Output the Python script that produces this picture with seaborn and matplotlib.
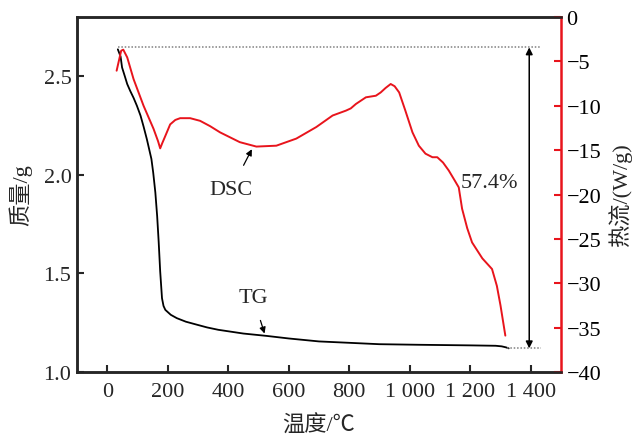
import numpy as np
import pandas as pd
import matplotlib
matplotlib.use("Agg")
import matplotlib.pyplot as plt
import seaborn as sns

sns.set_style("ticks")
plt.rcParams['font.family'] = ['Liberation Serif', 'Noto Sans CJK SC', 'DejaVu Sans']
plt.rcParams['axes.unicode_minus'] = True

# ---- data ----
t_tg = [35, 44, 49, 58, 66, 76, 87, 98, 110, 120, 131, 140, 146, 152, 159, 165, 170, 175, 181, 186,
        192, 210, 230, 260, 296, 330, 367, 450, 527, 600, 700, 800, 899, 1031, 1200, 1284, 1304,
        1318, 1327]
m_tg = [2.636, 2.60, 2.544, 2.50, 2.46, 2.425, 2.39, 2.35, 2.30, 2.245, 2.18, 2.12, 2.08, 2.01,
        1.91, 1.79, 1.66, 1.51, 1.374, 1.335, 1.315, 1.29, 1.273, 1.255, 1.24, 1.226, 1.214, 1.195,
        1.183, 1.17, 1.155, 1.148, 1.141, 1.138, 1.135, 1.133, 1.13, 1.125, 1.12]

t_dsc = [31, 46, 53, 66, 87, 120, 153, 168, 175, 182, 192, 208, 225, 241, 274, 307, 340, 373,
         438, 493, 559, 625, 691, 745, 789, 805, 822, 855, 888, 904, 920, 937, 950, 965, 985,
         1009, 1030, 1052, 1075, 1091, 1110, 1129, 1150, 1162, 1173, 1190, 1206, 1240, 1272,
         1288, 1300, 1316]
h_dsc = [-6.05, -3.8, -3.68, -4.55, -7.0, -10.0, -12.6, -14.0, -14.8, -14.2, -13.4, -12.1, -11.6,
         -11.4, -11.4, -11.7, -12.3, -13.0, -14.1, -14.6, -14.5, -13.7, -12.4, -11.1, -10.55,
         -10.3, -9.8, -9.05, -8.87, -8.5, -8.0, -7.55, -7.8, -8.5, -10.5, -13.0, -14.5, -15.4,
         -15.8, -15.8, -16.4, -17.3, -18.5, -19.2, -21.6, -23.8, -25.4, -27.2, -28.4, -30.3,
         -32.5, -35.9]

x_ticks = [0, 200, 400, 600, 800, 1000, 1200, 1400]
x_ticklabels = ["0", "200", "400", "600", "800", "1 000", "1 200", "1 400"]
y_ticks = [1.0, 1.5, 2.0, 2.5]
y2_ticks = [0, -5, -10, -15, -20, -25, -30, -35, -40]

mass_start, mass_end = 2.646, 1.12
loss_label = "57.4%"

tg_df = pd.DataFrame({"t": t_tg, "m": m_tg})
dsc_df = pd.DataFrame({"t": t_dsc, "h": h_dsc})

RED = "#e8141c"
fig = plt.figure(figsize=(6.34, 4.39), dpi=100)
ax = fig.add_axes([77/634, 66/439, 484/634, 355/439])
ax2 = ax.twinx()

sns.lineplot(data=tg_df, x="t", y="m", ax=ax, color="black", lw=1.3, sort=False, estimator=None)
sns.lineplot(data=dsc_df, x="t", y="h", ax=ax2, color=RED, lw=1.4, sort=False, estimator=None)

ax.set_xlim(-100, 1500)
ax.set_ylim(1.0, 2.8)
ax2.set_ylim(-40, 0)

fs = 16
ax.set_xticks(x_ticks)
ax.set_xticklabels(x_ticklabels, fontsize=fs)
ax.set_yticks(y_ticks)
ax.set_yticklabels([f"{v:.1f}" for v in y_ticks], fontsize=fs)
ax2.set_yticks(y2_ticks)
ax2.set_yticklabels([str(v).replace("-", "\u2212") for v in y2_ticks], fontsize=fs)

ax.tick_params(axis="both", direction="in", length=5, width=1.5, pad=4)
ax.tick_params(axis="x", pad=7)
ax2.tick_params(axis="y", direction="in", length=5, width=1.5, colors=RED, labelcolor="black", pad=4)

for s in ["left", "bottom", "top"]:
    ax.spines[s].set_linewidth(1.8)
    ax2.spines[s].set_linewidth(1.8)
ax.spines["right"].set_visible(False)
ax2.spines["right"].set_color(RED)
ax2.spines["right"].set_linewidth(1.8)
ax2.spines["right"].set_visible(True)
ax2.spines["top"].set_visible(True)

ax.set_xlabel("温度/℃", fontsize=fs, labelpad=10)
ax.set_ylabel("质量/g", fontsize=fs, labelpad=8)
ax2.set_ylabel("热流/(W/g)", fontsize=fs, labelpad=5)

# reference lines and arrow
ax.plot([35, 1435], [mass_start, mass_start], ls=(0, (1, 1.2)), color="gray", lw=1.1)
ax.plot([1320, 1435], [mass_end, mass_end], ls=(0, (1, 1.2)), color="gray", lw=1.1)
ax.annotate("", xy=(1395, mass_start), xytext=(1395, mass_end),
            arrowprops=dict(arrowstyle="<|-|>", color="black", lw=1.1, mutation_scale=10, shrinkA=0, shrinkB=0))
ax.text(1169, 1.96, loss_label, fontsize=fs, ha="left", va="center")

# labels with arrows
ax2.annotate("DSC", xy=(478, -14.9), xytext=(410, -19.4), fontsize=fs, ha="center", va="center",
             arrowprops=dict(arrowstyle="-|>", color="black", lw=0.9, mutation_scale=9, shrinkA=9, shrinkB=0))
ax.annotate("TG", xy=(520, 1.195), xytext=(482, 1.38), fontsize=fs, ha="center", va="center",
            arrowprops=dict(arrowstyle="-|>", color="black", lw=0.9, mutation_scale=9, shrinkA=8, shrinkB=0))

fig.savefig("out.png", dpi=100)
